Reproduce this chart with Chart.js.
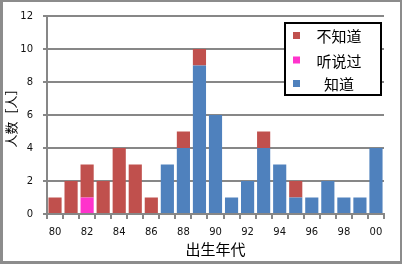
<!DOCTYPE html>
<html>
<head>
<meta charset="utf-8">
<script src="https://cdn.jsdelivr.net/npm/chart.js@4/dist/chart.umd.min.js"></script>
<style>
  html, body { margin: 0; padding: 0; background: #fff; }
  #wrap { position: relative; width: 402px; height: 264px; }
</style>
</head>
<body>
<div id="wrap"><canvas id="myChart" width="402" height="264"></canvas></div>
<script>
// birth years, 80 .. 00
var years = ["80","81","82","83","84","85","86","87","88","89","90",
             "91","92","93","94","95","96","97","98","99","00"];
// people per answer
var knowVals    = [0,0,0,0,0,0,0,3,4,9,6,1,2,4,3,1,1,2,1,1,4];
var heardVals   = [0,0,1,0,0,0,0,0,0,0,0,0,0,0,0,0,0,0,0,0,0];
var unknownVals = [1,2,2,2,4,3,1,0,1,1,0,0,0,1,0,1,0,0,0,0,0];
var yTicks = [0, 2, 4, 6, 8, 10, 12];

var gridGray = "#878787";
var cjk = "'Noto Sans CJK SC', 'Noto Sans', sans-serif";

// outer frame of the picture
var framePlugin = {
    id: "frame",
    beforeDraw: function(chart) {
        var c = chart.ctx;
        c.save();
        c.fillStyle = "#fff";
        c.fillRect(0, 0, chart.width, chart.height);
        c.strokeStyle = "#8c8c8c";
        c.lineWidth = 2;
        c.strokeRect(1, 1, chart.width - 2, chart.height - 2);
        c.fillStyle = "#8c8c8c";
        c.fillRect(0, 0, 3, chart.height);
        c.fillRect(0, chart.height - 3, chart.width, 3);
        c.restore();
    }
};

// boxed legend inside the plot, top item is last dataset
var boxLegend = {
    id: "boxLegend",
    afterDraw: function(chart) {
        var c = chart.ctx;
        var sets = chart.data.datasets;
        c.save();
        c.fillStyle = "#fff";
        c.fillRect(285, 23, 96, 72);
        c.strokeStyle = "#000";
        c.lineWidth = 2;
        c.strokeRect(285, 23, 96, 72);
        c.font = "15px " + cjk;
        c.textAlign = "center";
        c.textBaseline = "middle";
        var rows = [35.5, 60, 83.5];
        for (var i = 0; i < sets.length; i++) {
            var ds = sets[sets.length - 1 - i];
            c.fillStyle = ds.backgroundColor;
            c.fillRect(293, rows[i] - 3.5, 7, 7);
            c.fillStyle = "#000";
            c.fillText(ds.label, 339, rows[i] + 1);
        }
        c.restore();
    }
};

var ctx = document.getElementById("myChart");
var myChart = new Chart(ctx, {
    type: "bar",
    data: {
        labels: years,
        datasets: [
            { label: "知道", data: knowVals, backgroundColor: "#4F81BD" },
            { label: "听说过", data: heardVals, backgroundColor: "#FF33CC" },
            { label: "不知道", data: unknownVals, backgroundColor: "#C0504D" }
        ]
    },
    options: {
        responsive: false,
        animation: false,
        layout: { padding: { left: 0, right: 18, top: 14, bottom: 6 } },
        datasets: { bar: { barPercentage: 0.82, categoryPercentage: 1.0 } },
        plugins: {
            legend: { display: false },
            tooltip: { enabled: false }
        },
        scales: {
            x: {
                stacked: true,
                afterFit: function(s) { s.height = 44; },
                grid: {
                    offset: true,
                    drawOnChartArea: false,
                    drawTicks: true,
                    tickLength: 5,
                    color: gridGray,
                    lineWidth: 2
                },
                border: { display: true, color: gridGray, width: 2 },
                ticks: {
                    autoSkip: false,
                    maxRotation: 0,
                    padding: 7,
                    color: "#111",
                    font: { family: "'DejaVu Sans'", size: 10 },
                    callback: function(v, i) { return i % 2 == 0 ? years[i] : ""; }
                },
                title: {
                    display: true,
                    text: "出生年代",
                    color: "#000",
                    font: { family: cjk, size: 15 },
                    padding: { top: 1, bottom: 0 }
                }
            },
            y: {
                stacked: true,
                min: yTicks[0],
                max: yTicks[yTicks.length - 1],
                afterFit: function(s) { s.width = 47; },
                afterBuildTicks: function(s) {
                    s.ticks = yTicks.map(function(v) { return { value: v }; });
                },
                grid: {
                    color: gridGray,
                    lineWidth: 2,
                    drawTicks: true,
                    tickLength: 4
                },
                border: { display: true, color: gridGray, width: 2 },
                ticks: {
                    padding: 10,
                    color: "#111",
                    font: { family: "'DejaVu Sans'", size: 10 }
                },
                title: {
                    display: true,
                    text: "人数［人］",
                    color: "#000",
                    font: { family: cjk, size: 13 },
                    padding: { top: 3, bottom: 0 }
                }
            }
        }
    },
    plugins: [framePlugin, boxLegend]
});
</script>
</body>
</html>
